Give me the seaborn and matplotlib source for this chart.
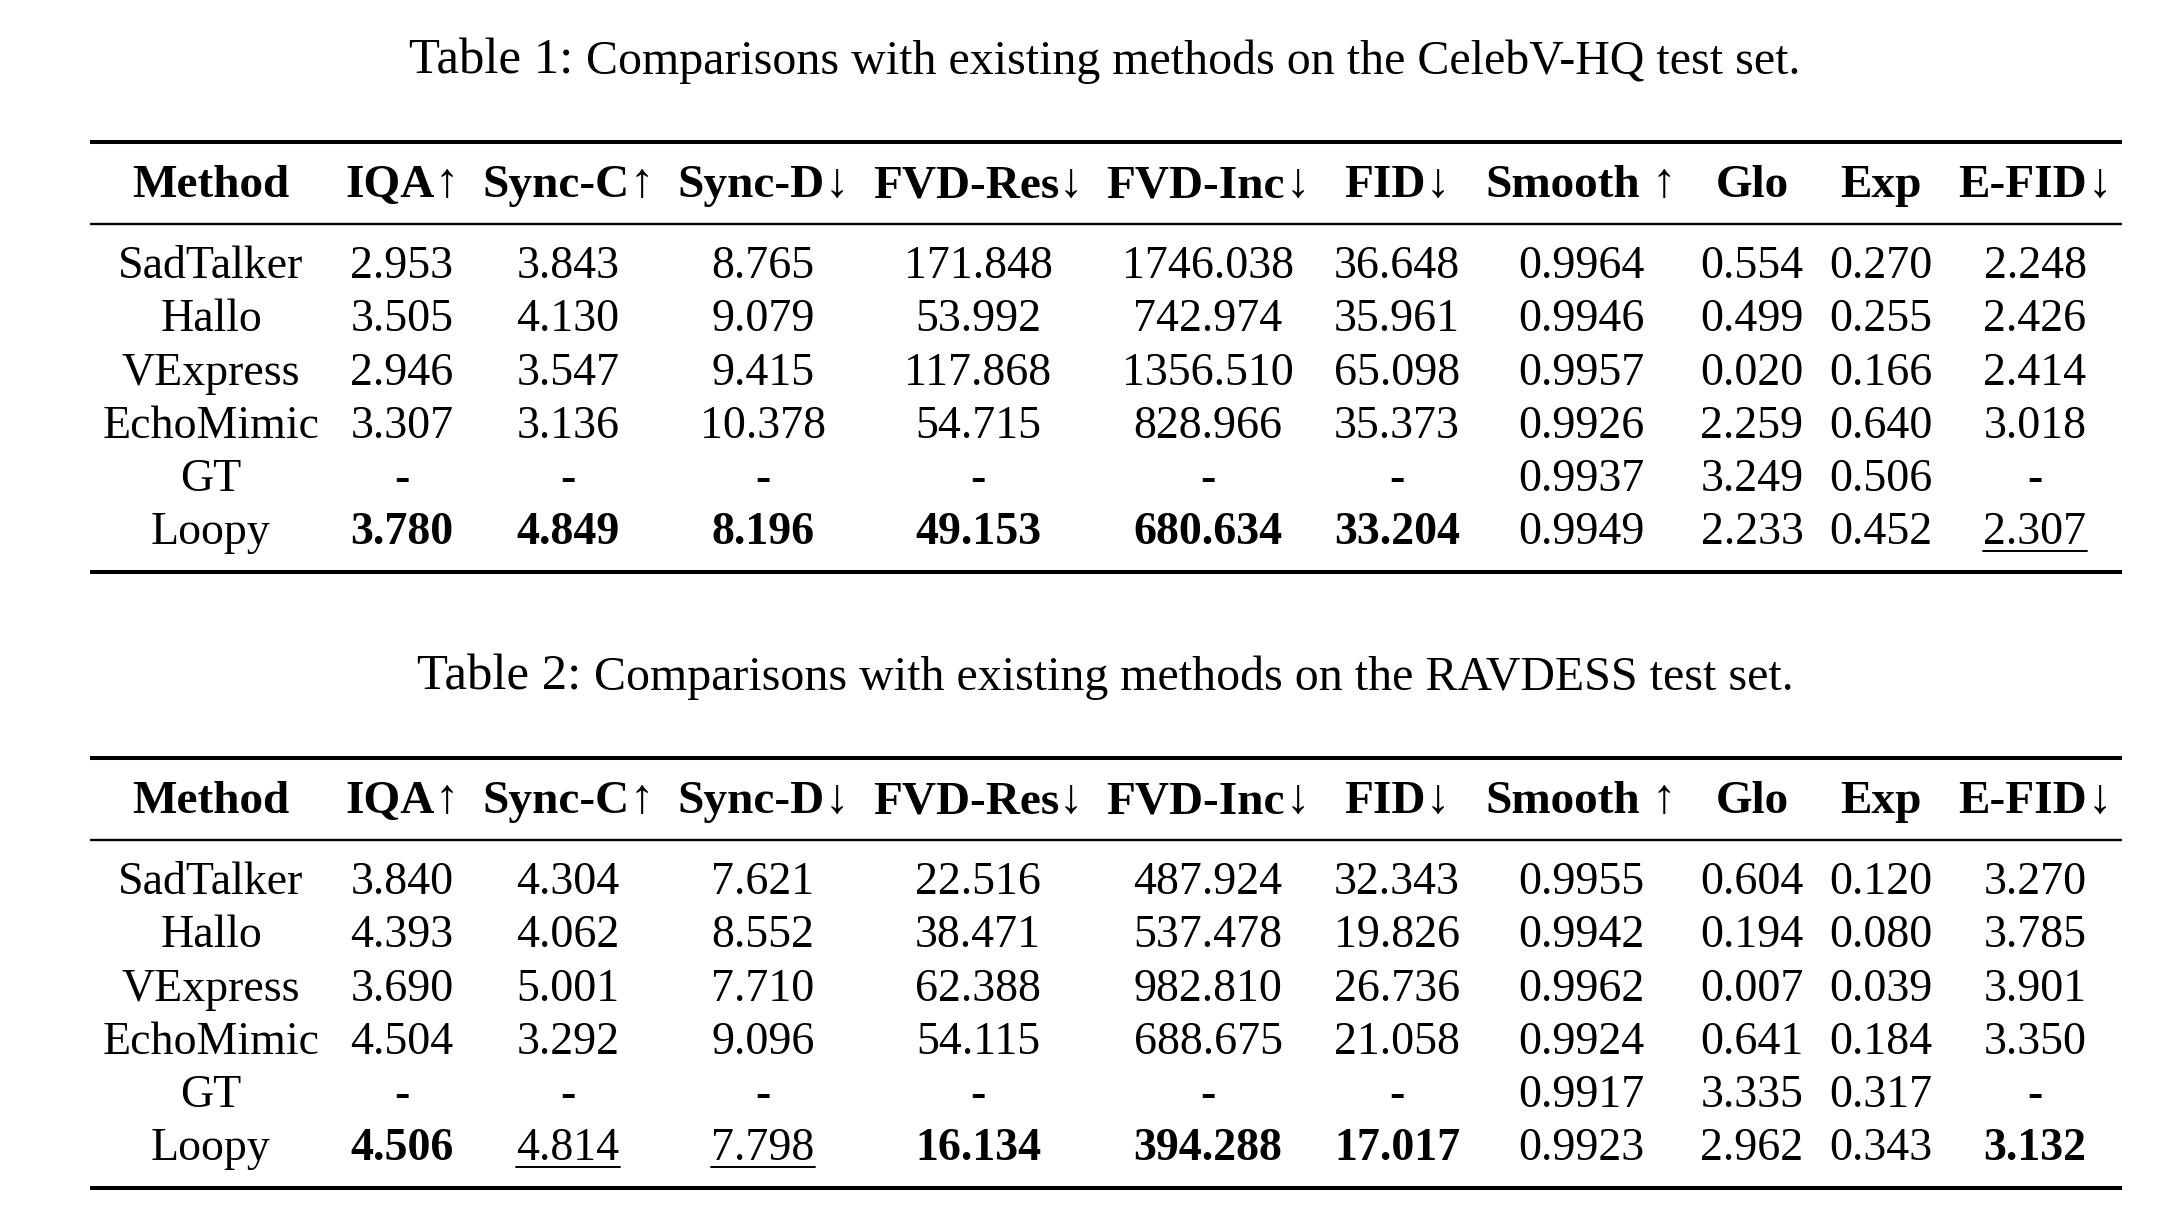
import seaborn as sns
import matplotlib.pyplot as plt

# Table contents
methods = ["SadTalker", "Hallo", "VExpress", "EchoMimic", "GT", "Loopy"]
metrics = ["IQA", "Sync-C", "Sync-D", "FVD-Res", "FVD-Inc", "FID", "Smooth", "Glo", "Exp", "E-FID"]
arrows = ["\u2191", "\u2191", "\u2193", "\u2193", "\u2193", "\u2193", " \u2191", "", "", "\u2193"]

# Table 1: CelebV-HQ
celebv_sadtalker = ["2.953", "3.843", "8.765", "171.848", "1746.038", "36.648", "0.9964", "0.554", "0.270", "2.248"]
celebv_hallo = ["3.505", "4.130", "9.079", "53.992", "742.974", "35.961", "0.9946", "0.499", "0.255", "2.426"]
celebv_vexpress = ["2.946", "3.547", "9.415", "117.868", "1356.510", "65.098", "0.9957", "0.020", "0.166", "2.414"]
celebv_echomimic = ["3.307", "3.136", "10.378", "54.715", "828.966", "35.373", "0.9926", "2.259", "0.640", "3.018"]
celebv_gt = ["-", "-", "-", "-", "-", "-", "0.9937", "3.249", "0.506", "-"]
celebv_loopy = ["3.780", "4.849", "8.196", "49.153", "680.634", "33.204", "0.9949", "2.233", "0.452", "2.307"]
celebv_best = ["IQA", "Sync-C", "Sync-D", "FVD-Res", "FVD-Inc", "FID"]
celebv_second = ["E-FID"]

# Table 2: RAVDESS
ravdess_sadtalker = ["3.840", "4.304", "7.621", "22.516", "487.924", "32.343", "0.9955", "0.604", "0.120", "3.270"]
ravdess_hallo = ["4.393", "4.062", "8.552", "38.471", "537.478", "19.826", "0.9942", "0.194", "0.080", "3.785"]
ravdess_vexpress = ["3.690", "5.001", "7.710", "62.388", "982.810", "26.736", "0.9962", "0.007", "0.039", "3.901"]
ravdess_echomimic = ["4.504", "3.292", "9.096", "54.115", "688.675", "21.058", "0.9924", "0.641", "0.184", "3.350"]
ravdess_gt = ["-", "-", "-", "-", "-", "-", "0.9917", "3.335", "0.317", "-"]
ravdess_loopy = ["4.506", "4.814", "7.798", "16.134", "394.288", "17.017", "0.9923", "2.962", "0.343", "3.132"]
ravdess_best = ["IQA", "FVD-Res", "FVD-Inc", "FID", "E-FID"]
ravdess_second = ["Sync-C", "Sync-D"]

tables = [
    ("Table 1:", "Comparisons with existing methods on the CelebV-HQ test set.",
     [celebv_sadtalker, celebv_hallo, celebv_vexpress, celebv_echomimic, celebv_gt, celebv_loopy],
     celebv_best, celebv_second),
    ("Table 2:", "Comparisons with existing methods on the RAVDESS test set.",
     [ravdess_sadtalker, ravdess_hallo, ravdess_vexpress, ravdess_echomimic, ravdess_gt, ravdess_loopy],
     ravdess_best, ravdess_second),
]

sns.set_theme(style="white")
plt.rcParams['font.family'] = ['Liberation Serif', 'DejaVu Serif']

W, H = 2182, 1228
fig = plt.figure(figsize=(W / 100, H / 100), dpi=100)
ax = fig.add_axes([0, 0, 1, 1])
ax.set_xlim(0, W)
ax.set_ylim(H, 0)
ax.axis('off')
renderer = fig.canvas.get_renderer()

FS = 33
col_x = [211, 402, 568, 763, 978, 1208, 1397, 1581, 1752, 1881, 2035]
x_left, x_right = 90, 2122


def width_of(s, fs, **kw):
    t = ax.text(0, 0, s, fontsize=fs, **kw)
    w = t.get_window_extent(renderer).width
    t.remove()
    return w


def pieces(x, y, parts):
    # draw several text runs side by side, centred at x
    widths = [width_of(s, fs, fontweight=fw) for s, fw, fs in parts]
    cur = x - sum(widths) / 2
    for (s, fw, fs), w in zip(parts, widths):
        ax.text(cur, y, s, fontsize=fs, fontweight=fw, ha='left', va='baseline', color='black')
        cur += w
    return x - sum(widths) / 2, cur


def draw_table(top, table):
    label, caption, rows, best, second = table
    # caption
    pieces(1105, top - 68, [(label + " ", 'normal', 36.5), (caption, 'normal', 34.5)])
    # rules
    ax.plot([x_left, x_right], [top, top], color='black', lw=2.9, solid_capstyle='butt')
    ax.plot([x_left, x_right], [top + 82, top + 82], color='black', lw=1.7, solid_capstyle='butt')
    # header
    hy = top + 55
    pieces(col_x[0], hy, [("Method", 'bold', FS + 1)])
    for i, (m, a) in enumerate(zip(metrics, arrows)):
        parts = [(m, 'bold', FS + 1)]
        if a:
            parts.append((a, 'normal', FS + 2))
        pieces(col_x[i + 1], hy, parts)
    # body
    for r, (name, vals) in enumerate(zip(methods, rows)):
        y = top + 136 + r * 53.3
        pieces(col_x[0], y, [(name, 'normal', FS)])
        for i, v in enumerate(vals):
            fw = 'bold' if (name == "Loopy" and metrics[i] in best) else 'normal'
            x0, x1 = pieces(col_x[i + 1], y, [(v, fw, FS)])
            if name == "Loopy" and metrics[i] in second:
                ax.plot([x0, x1], [y + 6, y + 6], color='black', lw=1.4)
    yb = top + 136 + 5 * 53.3 + 27
    ax.plot([x_left, x_right], [yb, yb], color='black', lw=2.9, solid_capstyle='butt')


draw_table(142, tables[0])
draw_table(758, tables[1])

plt.savefig('out.png', dpi=100, facecolor='white')
